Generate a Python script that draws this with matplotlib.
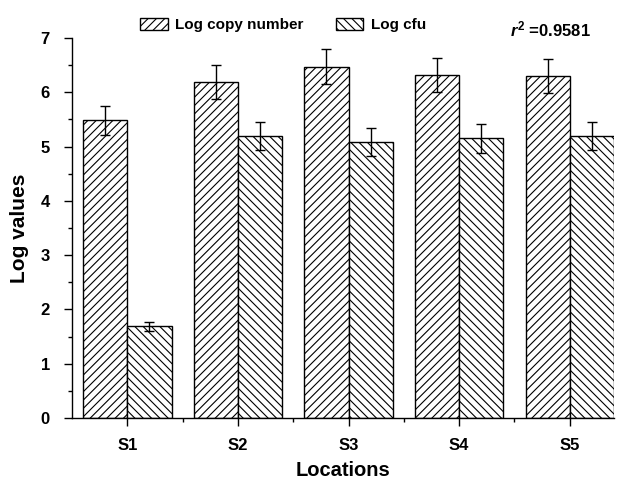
import numpy as np
import matplotlib.pyplot as plt
from matplotlib.ticker import MultipleLocator, FixedLocator

plt.rcParams['font.family'] = 'Liberation Sans'
plt.rcParams['font.weight'] = 'bold'
plt.rcParams['mathtext.fontset'] = 'custom'
plt.rcParams['mathtext.it'] = 'Liberation Sans:bold:italic'
plt.rcParams['mathtext.rm'] = 'Liberation Sans:bold'
plt.rcParams['hatch.linewidth'] = 0.8

locations = ['S1', 'S2', 'S3', 'S4', 'S5']
log_copy = [5.48, 6.19, 6.47, 6.32, 6.30]
log_copy_err = [0.27, 0.31, 0.32, 0.31, 0.31]
log_cfu = [1.69, 5.20, 5.09, 5.15, 5.19]
log_cfu_err = [0.08, 0.26, 0.26, 0.26, 0.26]

x = np.arange(1, len(locations) + 1)
w = 0.4

fig = plt.figure(figsize=(6.24, 4.8), dpi=100)
ax = fig.add_axes([0.1154, 0.129, 0.8686, 0.792])

ax.bar(x - w / 2, log_copy, w, color='white', edgecolor='black', hatch='////',
       linewidth=1, label='Log copy number')
ax.bar(x + w / 2, log_cfu, w, color='white', edgecolor='black', hatch='\\\\\\\\',
       linewidth=1, label='Log cfu')
ax.errorbar(x - w / 2, log_copy, yerr=log_copy_err, fmt='none', ecolor='black',
            elinewidth=1, capsize=3.5, capthick=1)
ax.errorbar(x + w / 2, log_cfu, yerr=log_cfu_err, fmt='none', ecolor='black',
            elinewidth=1, capsize=3.5, capthick=1)

ax.set_xlim(0.5, 5.4)
ax.set_ylim(0, 7)
ax.set_xticks(x)
ax.set_xticklabels(locations)
ax.xaxis.set_minor_locator(FixedLocator([1.5, 2.5, 3.5, 4.5]))
ax.yaxis.set_major_locator(MultipleLocator(1))
ax.yaxis.set_minor_locator(MultipleLocator(0.5))
ax.tick_params(which='major', length=6, width=1, labelsize=12)
ax.tick_params(which='minor', length=3, width=1)
ax.tick_params(axis='x', pad=8)
ax.tick_params(axis='y', pad=10)
for s in ['top', 'right']:
    ax.spines[s].set_visible(False)
for s in ['left', 'bottom']:
    ax.spines[s].set_linewidth(1)

ax.set_xlabel('Locations', fontsize=14.5, fontweight='bold', labelpad=6)
ax.set_ylabel('Log values', fontsize=15, fontweight='bold', labelpad=8)

fig.legend(loc='center', bbox_to_anchor=(0.454, 0.948), ncol=2, frameon=False,
           fontsize=11, handlelength=1.8, handleheight=0.9, columnspacing=2.1,
           handletextpad=0.5)
fig.text(0.817, 0.925, r'$r^{2}$ =0.9581', fontsize=12, fontweight='bold')

fig.savefig('out.png', dpi=100)
